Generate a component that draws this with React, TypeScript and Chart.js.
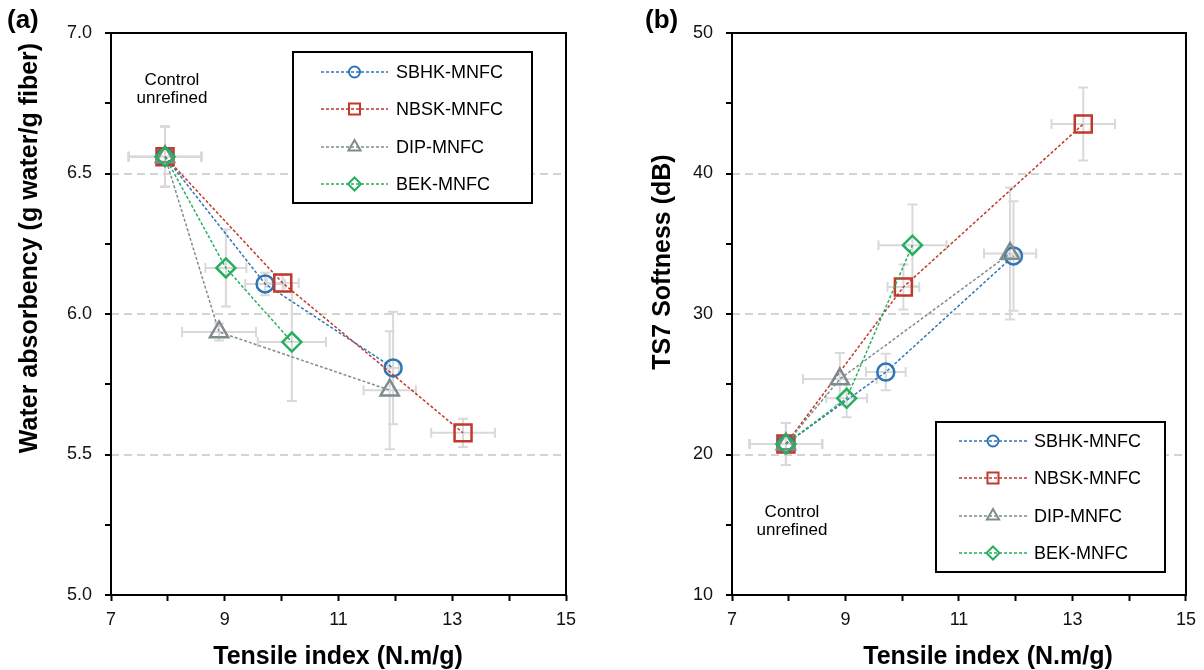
import React, { useEffect, useRef } from 'react';
import { Chart, registerables } from 'chart.js';

Chart.register(...registerables);

const FONT = '"Liberation Sans", Arial, Helvetica, sans-serif';

// ---- Series ----
const seriesNames = ['SBHK-MNFC', 'NBSK-MNFC', 'DIP-MNFC', 'BEK-MNFC'];
const seriesColors = ['#2e75b6', '#c0392b', '#7f8c8d', '#27ae60'];
const seriesMarkers = ['circle', 'rect', 'triangle', 'rectRot'];

// ---- Tensile index (N.m/g): control, refined step 1, refined step 2 ----
const tensileSBHK = [7.95, 9.71, 11.96];
const tensileNBSK = [7.95, 10.02, 13.19];
const tensileDIP = [7.95, 8.9, 11.9];
const tensileBEK = [7.95, 9.02, 10.18];
const tensileErrSBHK = [0.64, 0.35, 0.1];
const tensileErrNBSK = [0.64, 0.28, 0.56];
const tensileErrDIP = [0.64, 0.65, 0.46];
const tensileErrBEK = [0.64, 0.36, 0.6];

// ---- (a) Water absorbency (g water/g fiber) ----
const waterSBHK = [6.56, 6.107, 5.808];
const waterNBSK = [6.56, 6.11, 5.577];
const waterDIP = [6.56, 5.936, 5.729];
const waterBEK = [6.56, 6.164, 5.9];
const waterErrSBHK = [0.107, 0.04, 0.2];
const waterErrNBSK = [0.107, 0.03, 0.05];
const waterErrDIP = [0.107, 0.03, 0.21];
const waterErrBEK = [0.107, 0.137, 0.21];

// ---- (b) TS7 Softness (dB) ----
const softSBHK = [20.75, 25.87, 34.13];
const softNBSK = [20.75, 31.92, 43.52];
const softDIP = [20.75, 25.37, 34.3];
const softBEK = [20.75, 24.0, 34.9];
const softErrSBHK = [1.5, 1.3, 3.9];
const softErrNBSK = [1.5, 1.6, 2.6];
const softErrDIP = [1.5, 1.85, 4.7];
const softErrBEK = [1.5, 1.35, 2.9];

// ---- Tick labels ----
const xTickLabels = ['7', '9', '11', '13', '15'];
const yTickLabelsA = ['5.0', '5.5', '6.0', '6.5', '7.0'];
const yTickLabelsB = ['10', '20', '30', '40', '50'];
const yGridA = [5.5, 6.0, 6.5];
const yGridB = [20, 30, 40];

const TRANSPARENT = 'rgba(0,0,0,0)';

function labelFor(labels: string[], v: number) {
  const s = labels.find((l) => Math.abs(parseFloat(l) - v) < 1e-6);
  return s === undefined ? '' : s;
}

function drawMarker(ctx: CanvasRenderingContext2D, style: string, x: number, y: number, r: number) {
  ctx.beginPath();
  if (style === 'circle') {
    ctx.arc(x, y, r, 0, Math.PI * 2);
  } else if (style === 'rect') {
    const s = r * Math.SQRT1_2;
    ctx.rect(x - s, y - s, 2 * s, 2 * s);
  } else if (style === 'triangle') {
    for (let k = 0; k < 3; k++) {
      const a = -Math.PI / 2 + (k * 2 * Math.PI) / 3;
      const px = x + Math.cos(a) * r;
      const py = y + Math.sin(a) * r;
      if (k === 0) ctx.moveTo(px, py);
      else ctx.lineTo(px, py);
    }
    ctx.closePath();
  } else {
    ctx.moveTo(x - r, y);
    ctx.lineTo(x, y - r);
    ctx.lineTo(x + r, y);
    ctx.lineTo(x, y + r);
    ctx.closePath();
  }
  ctx.stroke();
}

const markerRadius = [8.5, 12, 10.5, 9.5];
const legendMarkerRadius = [5.5, 7.8, 7, 6.5];

const errorBarPlugin = {
  id: 'errorBars',
  beforeDatasetsDraw(chart: any) {
    const ctx = chart.ctx as CanvasRenderingContext2D;
    const xs = chart.scales.x;
    const ys = chart.scales.y;
    const cap = 5;
    ctx.save();
    ctx.strokeStyle = '#d9d9d9';
    ctx.lineWidth = 2;
    chart.data.datasets.forEach((ds: any) => {
      ds.data.forEach((pt: any, j: number) => {
        const px = xs.getPixelForValue(pt.x);
        const py = ys.getPixelForValue(pt.y);
        const xl = xs.getPixelForValue(pt.x - ds.xErr[j]);
        const xr = xs.getPixelForValue(pt.x + ds.xErr[j]);
        const yt = ys.getPixelForValue(pt.y + ds.yErr[j]);
        const yb = ys.getPixelForValue(pt.y - ds.yErr[j]);
        ctx.beginPath();
        ctx.moveTo(xl, py); ctx.lineTo(xr, py);
        ctx.moveTo(xl, py - cap); ctx.lineTo(xl, py + cap);
        ctx.moveTo(xr, py - cap); ctx.lineTo(xr, py + cap);
        ctx.moveTo(px, yt); ctx.lineTo(px, yb);
        ctx.moveTo(px - cap, yt); ctx.lineTo(px + cap, yt);
        ctx.moveTo(px - cap, yb); ctx.lineTo(px + cap, yb);
        ctx.stroke();
      });
    });
    ctx.restore();
  },
};

type Deco = {
  panelLabel: string;
  panelLabelX: number;
  yTitle: string;
  yTitleX: number;
  yTitleY: number;
  xTitle: string;
  xTitleX: number;
  xTitleY: number;
  noteX: number;
  noteY: number;
  legend: { left: number; top: number; right: number; bottom: number; lineX1: number; lineX2: number; textX: number; rows: number[] };
};

function makeDecoPlugin(d: Deco) {
  return {
    id: 'deco',
    afterDraw(chart: any) {
      const ctx = chart.ctx as CanvasRenderingContext2D;
      const a = chart.chartArea;
      ctx.save();
      // frame
      ctx.strokeStyle = '#000';
      ctx.lineWidth = 2;
      ctx.strokeRect(a.left, a.top, a.right - a.left, a.bottom - a.top);

      // panel label
      ctx.fillStyle = '#000';
      ctx.font = `bold 26px ${FONT}`;
      ctx.textAlign = 'left';
      ctx.textBaseline = 'middle';
      ctx.fillText(d.panelLabel, d.panelLabelX, 21);

      // axis titles
      ctx.font = `bold 25px ${FONT}`;
      ctx.textAlign = 'center';
      ctx.fillText(d.xTitle, d.xTitleX, d.xTitleY);
      ctx.save();
      ctx.translate(d.yTitleX, d.yTitleY);
      ctx.rotate(-Math.PI / 2);
      ctx.fillText(d.yTitle, 0, 0);
      ctx.restore();

      // note
      ctx.font = `17px ${FONT}`;
      ctx.fillText('Control', d.noteX, d.noteY);
      ctx.fillText('unrefined', d.noteX, d.noteY + 18);

      // legend
      const L = d.legend;
      ctx.fillStyle = '#fff';
      ctx.fillRect(L.left, L.top, L.right - L.left, L.bottom - L.top);
      ctx.strokeStyle = '#000';
      ctx.lineWidth = 2;
      ctx.strokeRect(L.left, L.top, L.right - L.left, L.bottom - L.top);
      seriesNames.forEach((name, i) => {
        const y = L.rows[i];
        const mx = (L.lineX1 + L.lineX2) / 2;
        ctx.strokeStyle = seriesColors[i];
        ctx.lineWidth = 1.5;
        ctx.setLineDash([3, 2]);
        ctx.beginPath();
        ctx.moveTo(L.lineX1, y);
        ctx.lineTo(L.lineX2, y);
        ctx.stroke();
        ctx.setLineDash([]);
        ctx.lineWidth = 2;
        drawMarker(ctx, seriesMarkers[i], mx, y, legendMarkerRadius[i]);
        ctx.fillStyle = '#000';
        ctx.font = `18px ${FONT}`;
        ctx.textAlign = 'left';
        ctx.textBaseline = 'middle';
        ctx.fillText(name, L.textX, y + 1);
      });
      ctx.restore();
    },
  };
}

type PanelSpec = {
  xs: number[][];
  xErrs: number[][];
  ys: number[][];
  yErrs: number[][];
  yMin: number;
  yMax: number;
  yStep: number;
  yLabels: string[];
  yGrid: number[];
  yAxisWidth: number;
  yTickPadding: number;
  rightPad: number;
  deco: Deco;
};

function makeConfig(p: PanelSpec): any {
  const datasets = seriesNames.map((name, i) => ({
    label: name,
    data: p.xs[i].map((x, j) => ({ x, y: p.ys[i][j] })),
    xErr: p.xErrs[i],
    yErr: p.yErrs[i],
    showLine: true,
    fill: false,
    borderColor: seriesColors[i],
    backgroundColor: TRANSPARENT,
    borderWidth: 1.5,
    borderDash: [3, 2],
    pointStyle: seriesMarkers[i],
    pointRadius: markerRadius[i],
    pointHoverRadius: markerRadius[i],
    pointBorderWidth: 2.5,
    pointBorderColor: seriesColors[i],
    pointBackgroundColor: TRANSPARENT,
    order: 3 - i,
  }));
  return {
    type: 'scatter',
    data: { datasets },
    options: {
      animation: false,
      responsive: false,
      maintainAspectRatio: false,
      events: [],
      layout: { padding: { left: 0, right: p.rightPad, top: 33, bottom: 0 } },
      plugins: { legend: { display: false }, tooltip: { enabled: false } },
      scales: {
        x: {
          type: 'linear',
          min: 7,
          max: 15,
          ticks: {
            stepSize: 1,
            autoSkip: false,
            maxRotation: 0,
            padding: 8,
            color: '#111',
            font: { family: FONT, size: 18 },
            callback: (v: number) => labelFor(xTickLabels, v),
          },
          grid: {
            color: TRANSPARENT,
            drawOnChartArea: false,
            drawTicks: true,
            tickColor: '#000',
            tickLength: 6,
            tickWidth: 2,
          },
          border: { display: false },
          afterFit: (s: any) => {
            s.height = 75;
          },
        },
        y: {
          type: 'linear',
          min: p.yMin,
          max: p.yMax,
          ticks: {
            stepSize: p.yStep,
            autoSkip: false,
            padding: p.yTickPadding,
            color: '#111',
            font: { family: FONT, size: 18 },
            callback: (v: number) => labelFor(p.yLabels, v),
          },
          grid: {
            color: (c: any) => {
              const v = c.tick ? c.tick.value : NaN;
              return p.yGrid.some((g) => Math.abs(g - v) < 1e-6) ? '#d4d4d4' : TRANSPARENT;
            },
            lineWidth: 2,
            drawTicks: true,
            tickColor: '#000',
            tickLength: 6,
            tickWidth: 2,
          },
          border: { display: false, dash: [8, 5] },
          afterFit: (s: any) => {
            s.width = p.yAxisWidth;
          },
        },
      },
    },
    plugins: [errorBarPlugin, makeDecoPlugin(p.deco)],
  };
}

const tensileAll = [tensileSBHK, tensileNBSK, tensileDIP, tensileBEK];
const tensileErrAll = [tensileErrSBHK, tensileErrNBSK, tensileErrDIP, tensileErrBEK];

const panelA: PanelSpec = {
  xs: tensileAll,
  xErrs: tensileErrAll,
  ys: [waterSBHK, waterNBSK, waterDIP, waterBEK],
  yErrs: [waterErrSBHK, waterErrNBSK, waterErrDIP, waterErrBEK],
  yMin: 5,
  yMax: 7,
  yStep: 0.25,
  yLabels: yTickLabelsA,
  yGrid: yGridA,
  yAxisWidth: 111,
  yTickPadding: 13,
  rightPad: 34,
  deco: {
    panelLabel: '(a)',
    panelLabelX: 7,
    yTitle: 'Water absorbency (g water/g fiber)',
    yTitleX: 30,
    yTitleY: 248,
    xTitle: 'Tensile index (N.m/g)',
    xTitleX: 338,
    xTitleY: 657,
    noteX: 172,
    noteY: 80,
    legend: { left: 293, top: 52, right: 532, bottom: 203, lineX1: 321, lineX2: 388, textX: 396, rows: [72, 109, 147, 184] },
  },
};

const panelB: PanelSpec = {
  xs: tensileAll,
  xErrs: tensileErrAll,
  ys: [softSBHK, softNBSK, softDIP, softBEK],
  yErrs: [softErrSBHK, softErrNBSK, softErrDIP, softErrBEK],
  yMin: 10,
  yMax: 50,
  yStep: 5,
  yLabels: yTickLabelsB,
  yGrid: yGridB,
  yAxisWidth: 132,
  yTickPadding: 13,
  rightPad: 15,
  deco: {
    panelLabel: '(b)',
    panelLabelX: 45,
    yTitle: 'TS7 Softness (dB)',
    yTitleX: 63,
    yTitleY: 262,
    xTitle: 'Tensile index (N.m/g)',
    xTitleX: 388,
    xTitleY: 657,
    noteX: 192,
    noteY: 512,
    legend: { left: 336, top: 422, right: 565, bottom: 572, lineX1: 359, lineX2: 427, textX: 434, rows: [441, 478, 516, 553] },
  },
};

function Panel({ left, width, spec }: { left: number; width: number; spec: PanelSpec }) {
  const ref = useRef<HTMLCanvasElement | null>(null);
  useEffect(() => {
    if (!ref.current) return;
    const chart = new Chart(ref.current, makeConfig(spec));
    return () => chart.destroy();
  }, [spec]);
  return (
    <canvas
      ref={ref}
      width={width}
      height={670}
      style={{ position: 'absolute', left, top: 0, width, height: 670, display: 'block' }}
    />
  );
}

export default function App() {
  return (
    <div style={{ position: 'fixed', left: 0, top: 0, width: 1204, height: 670, background: '#fff', overflow: 'hidden' }}>
      <Panel left={0} width={600} spec={panelA} />
      <Panel left={600} width={604} spec={panelB} />
    </div>
  );
}
